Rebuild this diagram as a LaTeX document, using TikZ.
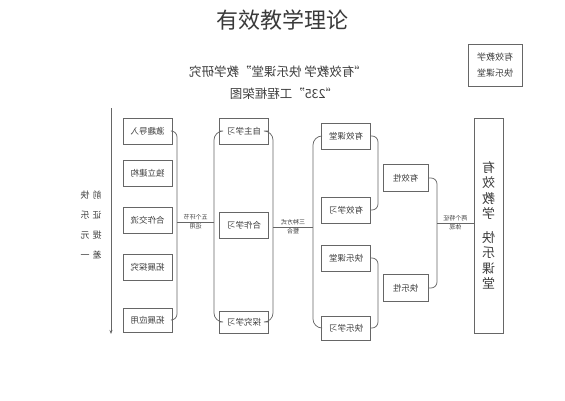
\documentclass[tikz,border=0pt]{standalone}
\usepackage{fontspec}
\usepackage{graphicx}
\setmainfont{Noto Sans CJK SC}
\usetikzlibrary{calc,arrows.meta}
\definecolor{linegray}{HTML}{666666}
\definecolor{textgray}{HTML}{3E3E3E}
\definecolor{titlegray}{HTML}{3A3A3A}
\newcommand\mr[1]{\reflectbox{#1}}
\begin{document}
\begin{tikzpicture}[x=1pt,y=-1pt,
  box/.style={draw=linegray, line width=0.75pt, minimum width=49pt, minimum height=26pt, inner sep=0pt, font=\fontsize{8.5}{9}\selectfont, text=textgray},
  br/.style={draw=linegray, line width=0.75pt, rounded corners=6pt},
  conn/.style={draw=linegray, line width=0.75pt},
  lab/.style={font=\fontsize{6}{6}\selectfont, text=textgray, inner sep=1.5pt},
  sub/.style={font=\fontsize{12.5}{13}\selectfont, text=textgray, inner sep=0pt},
  side/.style={font=\fontsize{9}{9}\selectfont, text=textgray, inner sep=0pt}]
\useasboundingbox (0,0) rectangle (565,400);
% titles
\node[font=\fontsize{22}{22}\selectfont, text=titlegray] (title) at (282,20) {有效教学理论};
\node[sub] (sub1) at (278,72) {\mr{“有效教学\ 快乐课堂”教学研究}};
\node[sub] (sub2) at (284,94) {\mr{“235”工程框架图}};
\node[box, minimum width=54pt, minimum height=42pt, align=center, font=\fontsize{9}{16}\selectfont] (tr) at (495,65) {\mr{有效教学}\\\mr{快乐课堂}};
% left arrow and side text
\coordinate (atop) at (111,108);
\coordinate (abot) at (111,334);
\draw[conn, -{Stealth[length=4pt,width=3pt]}] (atop) -- (abot);
\node[side] (s1) at (91,195) {\mr{前\hspace{3pt}快}};
\node[side] (s2) at (91,215) {\mr{证\hspace{3pt}乐}};
\node[side] (s3) at (91,235) {\mr{提\hspace{3pt}元}};
\node[side] (s4) at (91,255) {\mr{差\hspace{3pt}一}};
% column 1
\node[box] (b1) at (147.5,131) {\mr{激趣导入}};
\node[box] (b2) at (147.5,173) {\mr{独立建构}};
\node[box] (b3) at (147.5,220) {\mr{合作交流}};
\node[box] (b4) at (147.5,267) {\mr{拓展探究}};
\node[box, minimum height=24pt] (b5) at (147.5,320) {\mr{拓展应用}};
% column 2
\node[box] (c1) at (244,131) {\mr{自主学习}};
\node[box] (c2) at (244,225) {\mr{合作学习}};
\node[box, minimum height=22pt] (c3) at (244,322) {\mr{探究学习}};
% column 3
\node[box] (d1) at (346,136) {\mr{有效课堂}};
\node[box] (d2) at (346,210) {\mr{有效学习}};
\node[box] (d3) at (346,258) {\mr{快乐课堂}};
\node[box, minimum height=24pt] (d4) at (346,328) {\mr{快乐学习}};
% column 4
\node[box, minimum width=45pt, minimum height=27pt] (e1) at (405.5,178) {\mr{有效性}};
\node[box, minimum width=45pt, minimum height=27pt] (e2) at (405.5,288) {\mr{快乐性}};
% big box
\node[box, minimum width=29pt, minimum height=215pt, align=center, font=\fontsize{13}{15.5}\selectfont] (big) at (488.5,225.5)
  {\mr{有}\\\mr{效}\\\mr{教}\\\mr{学}\\[8pt]\mr{快}\\\mr{乐}\\\mr{课}\\\mr{堂}};
% bracket joints
\coordinate (j1) at (177,222);
\coordinate (j2) at (214,222);
\coordinate (j3) at (273,227);
\coordinate (j4) at (313,227);
\coordinate (k1) at (378,173);
\coordinate (k2) at (378,293);
\coordinate (j5) at (437,223);
% brackets
\draw[br] (b1.east) -| (j1) |- (b5.east);
\draw[br, rounded corners=9pt] (c1.west) -| (j2) |- (c3.west);
\draw[br, rounded corners=9pt] (c1.east) -| (j3) |- (c3.east);
\draw[br, rounded corners=9pt] (d1.west) -| (j4) |- (d4.west);
\draw[br] (d1.east) -| (k1) |- (d2.east);
\draw[br] (d3.east) -| (k2) |- (d4.east);
\draw[br] (e1.east) -| (j5) |- (e2.east);
% connectors
\draw[conn] (j1) -- (j2);
\draw[conn] (j3) -- (j4);
\draw[conn] (j5) -- (big.west |- j5);
% labels
\node[lab, above] (l1a) at ($(j1)!0.5!(j2)$) {\mr{五个环节}};
\node[lab, below] (l1b) at ($(j1)!0.5!(j2)$) {\mr{运用}};
\node[lab, above] (l2a) at ($(j3)!0.5!(j4)$) {\mr{三种方式}};
\node[lab, below] (l2b) at ($(j3)!0.5!(j4)$) {\mr{整合}};
\node[lab, above] (l3a) at ($(j5)!0.5!(big.west |- j5)$) {\mr{两个特征}};
\node[lab, below] (l3b) at ($(j5)!0.5!(big.west |- j5)$) {\mr{体现}};
\end{tikzpicture}
\end{document}
